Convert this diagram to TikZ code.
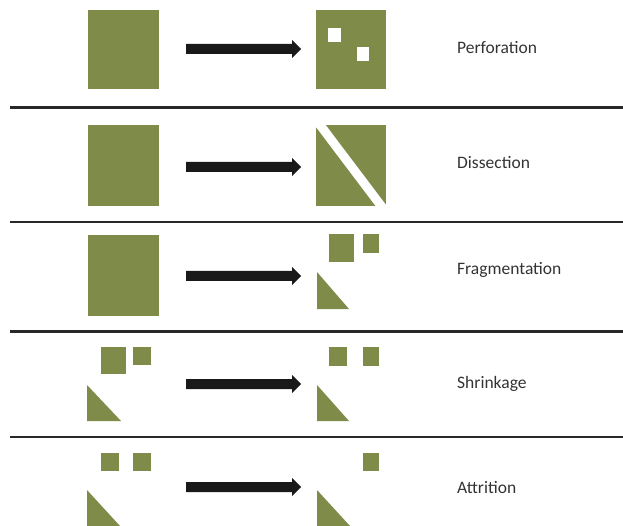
\documentclass[tikz,border=0pt]{standalone}
\usepackage{fontspec}
\setmainfont{Carlito}
\definecolor{olive}{RGB}{127,139,73}
\definecolor{rule}{RGB}{40,40,40}
\begin{document}
\begin{tikzpicture}[x=1pt,y=-1pt,
  piece/.style={fill=olive,draw=none},
  sep/.style={draw=rule,line width=2.6pt},
  bigarrow/.style={fill=black!90,draw=none},
  lbl/.style={anchor=west,inner sep=0pt,font=\fontsize{17.5}{20}\selectfont,text=black!80}]
\useasboundingbox (0,0) rectangle (623,526);
% separators
\foreach \yy/\n in {107.5/s1,222/s2,331.5/s3,437/s4}{
  \coordinate (\n a) at (10,\yy); \coordinate (\n b) at (623,\yy);
  \draw[sep] (\n a) -- (\n b);}
% arrows
\foreach \yy/\n in {49/a1,167/a2,276/a3,384/a4,487/a5}{
  \coordinate (\n) at (186,\yy);
  \fill[bigarrow] (\n) ++(0,-5) -- ++(106,0) -- ++(0,-4) -- ++(9,9) -- ++(-9,9) -- ++(0,-4) -- ++(-106,0) -- cycle;}
% row 1
\fill[piece] (88,10) rectangle (159,89);
\fill[piece] (316,10) rectangle (386,89);
\fill[white] (328,28) rectangle (341,42);
\fill[white] (357,47) rectangle (369,61);
\node[lbl] (l1) at (457,48) {Perforation};
% row 2
\fill[piece] (88,125) rectangle (159,206);
\fill[piece] (316,125) rectangle (386,206);
\draw[white,line width=9pt] (314,117) -- (388,215);
\node[lbl] (l2) at (457,163) {Dissection};
% row 3
\fill[piece] (88,235) rectangle (159,316);
\fill[piece] (329,234) rectangle (354,262);
\fill[piece] (363,234) rectangle (379,253);
\fill[piece] (317,272) -- (317,309) -- (349,309) -- cycle;
\node[lbl] (l3) at (457,270) {Fragmentation};
% row 4
\fill[piece] (101,347) rectangle (126,374);
\fill[piece] (133,347) rectangle (151,365);
\fill[piece] (87,385) -- (87,421) -- (121,421) -- cycle;
\fill[piece] (329,347) rectangle (347,366);
\fill[piece] (363,347) rectangle (379,366);
\fill[piece] (317,385) -- (317,421) -- (349,421) -- cycle;
\node[lbl] (l4) at (457,384) {Shrinkage};
% row 5
\fill[piece] (101,453) rectangle (119,471);
\fill[piece] (133,453) rectangle (151,471);
\fill[piece] (87,490) -- (87,526) -- (120,526) -- cycle;
\fill[piece] (363,453) rectangle (379,471);
\fill[piece] (317,490) -- (317,526) -- (350,526) -- cycle;
\node[lbl] (l5) at (457,488) {Attrition};
\end{tikzpicture}
\end{document}
